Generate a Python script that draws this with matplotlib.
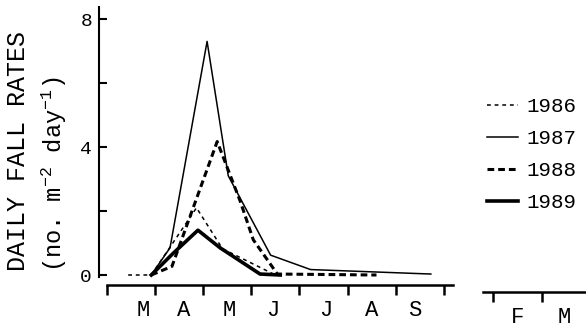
import matplotlib
matplotlib.use("Agg")
import matplotlib.pyplot as plt

# months after 1 March, daily fall rates (no. m-2 day-1)
months_1986 = [0.44, 0.92, 1.86, 2.40, 3.50]
rates_1986 = [0.0, 0.0, 2.1, 0.82, 0.0]

months_1987 = [0.92, 1.31, 2.08, 2.52, 3.40, 4.23, 6.73]
rates_1987 = [0.0, 0.85, 7.3, 3.1, 0.62, 0.17, 0.03]

months_1988 = [0.92, 1.35, 2.29, 2.77, 3.04, 3.54, 5.60]
rates_1988 = [0.0, 0.27, 4.17, 2.3, 1.1, 0.03, 0.0]

months_1989 = [0.92, 1.37, 1.89, 2.35, 3.18, 3.60]
rates_1989 = [0.0, 0.67, 1.4, 0.85, 0.03, 0.0]

month_labels = ["M", "A", "M", "J", "J", "A", "S"]
month_label_pos = [0.75, 1.6, 2.55, 3.45, 4.55, 5.5, 6.4]
late_labels = ["F", "M"]
late_label_pos = [11.5, 12.45]

plt.rcParams["font.family"] = "Liberation Mono"
plt.rcParams["mathtext.fontset"] = "custom"
plt.rcParams["mathtext.rm"] = "Liberation Mono"
plt.rcParams["mathtext.it"] = "Liberation Mono"

W, H = 586, 327
fig = plt.figure(figsize=(W / 100, H / 100), dpi=100)

# main panel (March - September)
ax = fig.add_axes([99 / W, 1 - 285 / H, (453 - 99) / W, (285 - 7) / H])
ax.set_xlim(-0.166, 7.19)
ax.set_ylim(-0.3125, 8.375)

l86, = ax.plot(months_1986, rates_1986, color="black", lw=1.1, dashes=(2.5, 2.5))
l87, = ax.plot(months_1987, rates_1987, color="black", lw=1.1)
l88, = ax.plot(months_1988, rates_1988, color="black", lw=2.2, dashes=(2.2, 1.3))
l89, = ax.plot(months_1989, rates_1989, color="black", lw=2.6)

for side in ["top", "right"]:
    ax.spines[side].set_visible(False)
ax.spines["left"].set_bounds(-0.06, 8.375)
ax.spines["bottom"].set_bounds(0, 7.19)
ax.spines["left"].set_linewidth(1.5)
ax.spines["bottom"].set_linewidth(1.8)

ax.set_yticks([0, 4, 8])
ax.set_yticks([2, 6], minor=True)
ax.tick_params(axis="y", which="both", direction="in", length=6, width=1.5,
               labelsize=14, pad=5)

ax.set_xticks(range(8))
ax.set_xticklabels([])
ax.set_xticks(month_label_pos, minor=True)
ax.set_xticklabels(month_labels, minor=True)
ax.tick_params(axis="x", which="major", direction="out", length=7, width=1.8)
ax.tick_params(axis="x", which="minor", length=0, labelsize=16, pad=11)

# second panel (February - March)
ax2 = fig.add_axes([483 / W, 1 - 292 / H, (W - 483) / W, 0.01])
ax2.set_xlim(10.796, 12.898)
ax2.set_ylim(0, 1)
for side in ["top", "right", "left"]:
    ax2.spines[side].set_visible(False)
ax2.spines["bottom"].set_linewidth(1.8)
ax2.set_yticks([])
ax2.set_xticks([11, 12])
ax2.set_xticklabels([])
ax2.set_xticks(late_label_pos, minor=True)
ax2.set_xticklabels(late_labels, minor=True)
ax2.tick_params(axis="x", which="major", direction="out", length=7, width=1.8)
ax2.tick_params(axis="x", which="minor", length=0, labelsize=16, pad=11)
ax2.patch.set_visible(False)

# y label, two lines
fig.text(25 / W, 1 - 271 / H, "DAILY FALL RATES", rotation=90,
         rotation_mode="anchor", ha="left", va="baseline", fontsize=18)
fig.text(62 / W, 1 - 272 / H, "(no. m$^{-2}$ day$^{-1}$)", rotation=90,
         rotation_mode="anchor", ha="left", va="baseline", fontsize=17)

fig.legend([l86, l87, l88, l89], ["1986", "1987", "1988", "1989"],
           loc="center left", bbox_to_anchor=(487 / W, 1 - 154.5 / H),
           frameon=False, handlelength=1.5, handletextpad=0.4,
           labelspacing=0.62, borderpad=0, borderaxespad=0, fontsize=15)

fig.savefig("out.png", dpi=100)
